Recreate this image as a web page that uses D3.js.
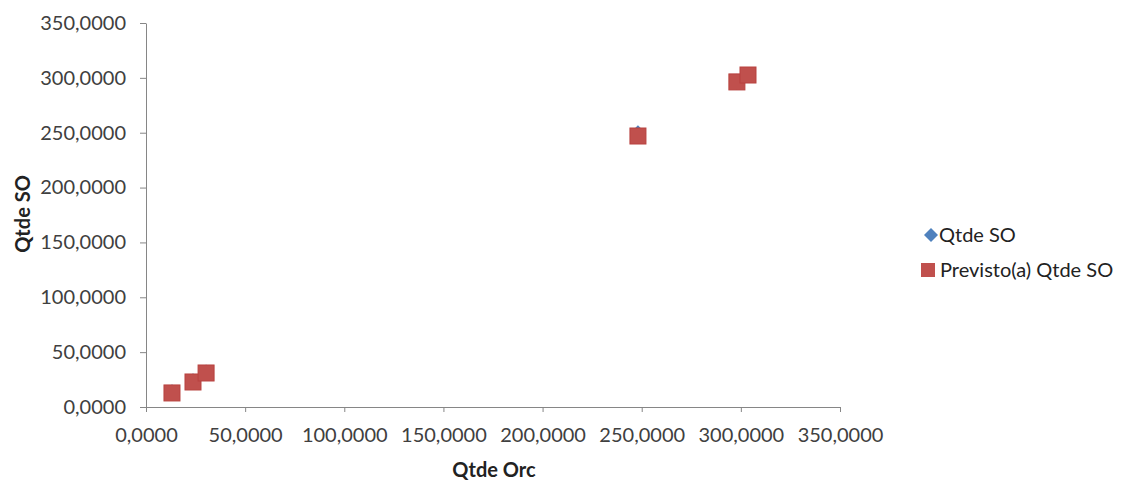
<!DOCTYPE html>
<html>
<head>
<meta charset="utf-8">
<script src="https://cdn.jsdelivr.net/npm/d3@7"></script>
<style>
  body { margin: 0; background: #fff; }
  svg { font-family: Lato, "Open Sans", sans-serif; }
</style>
</head>
<body>
<svg></svg>
<script>
// Dados
const qtdeOrc = [13.1, 23.7, 30.3, 248.1, 298.0, 303.6];
const qtdeSO = [13.5, 23.5, 31.5, 249.5, 296.5, 302.5];
const previstoSO = [12.8, 22.8, 31.0, 247.0, 296.3, 302.6];
const xTicks = [0, 50, 100, 150, 200, 250, 300, 350];
const yTicks = [0, 50, 100, 150, 200, 250, 300, 350];
const seriesNames = ["Qtde SO", "Previsto(a) Qtde SO"];

const width = 1123;
const height = 482;
const margin = { top: 23, right: 283, bottom: 75, left: 146 };

const fmt = d => d3.format(".4f")(d).replace(".", ",");

const xScale = d3.scaleLinear()
  .domain([0, 350])
  .range([margin.left, width - margin.right]);

const yScale = d3.scaleLinear()
  .domain([0, 350])
  .range([height - margin.bottom, margin.top]);

const svg = d3.select("svg")
  .attr("width", width)
  .attr("height", height);

// Eixo X
const gx = svg.append("g")
  .attr("transform", `translate(0,${height - margin.bottom})`)
  .call(d3.axisBottom(xScale).tickValues(xTicks).tickFormat(fmt).tickSize(5).tickSizeOuter(0));

// Eixo Y
const gy = svg.append("g")
  .attr("transform", `translate(${margin.left},0)`)
  .call(d3.axisLeft(yScale).tickValues(yTicks).tickFormat(fmt).tickSize(6).tickSizeOuter(0));

[gx, gy].forEach(g => {
  g.attr("font-family", "Lato, sans-serif");
  g.select(".domain").attr("stroke", "#868686");
  g.selectAll(".tick line").attr("stroke", "#868686");
  g.selectAll(".tick text")
    .attr("fill", "#404040")
    .style("font-size", "20px");
});
gx.selectAll(".tick text").attr("y", 0).attr("dy", "35px");
gy.selectAll(".tick text").attr("x", -20);

// Títulos dos eixos
svg.append("text")
  .attr("x", 494)
  .attr("y", 477)
  .attr("text-anchor", "middle")
  .style("font-size", "20px")
  .style("font-weight", "bold")
  .attr("fill", "#222")
  .text("Qtde Orc");

svg.append("text")
  .attr("transform", `translate(30,214) rotate(-90)`)
  .attr("text-anchor", "middle")
  .style("font-size", "20px")
  .style("font-weight", "bold")
  .attr("fill", "#222")
  .text("Qtde SO");

// Pontos reais (losango)
const dia = 8;
const diamondPath = `M0,${-dia}L${dia},0L0,${dia}L${-dia},0Z`;
svg.append("g").selectAll("path")
  .data(qtdeOrc)
  .join("path")
  .attr("d", diamondPath)
  .attr("transform", (d, i) => `translate(${xScale(d)},${yScale(qtdeSO[i])})`)
  .attr("fill", "#4F81BD");

// Pontos previstos (quadrado)
const sq = 16;
svg.append("g").selectAll("rect")
  .data(qtdeOrc)
  .join("rect")
  .attr("x", d => xScale(d) - sq / 2)
  .attr("y", (d, i) => yScale(previstoSO[i]) - sq / 2)
  .attr("width", sq)
  .attr("height", sq)
  .attr("fill", "#C0504D")
  .attr("stroke", "#B8423F")
  .attr("stroke-width", 1);

// Legenda
const legend = svg.append("g");
legend.append("path")
  .attr("d", "M0,-7L7,0L0,7L-7,0Z")
  .attr("transform", "translate(931,235)")
  .attr("fill", "#4F81BD");
legend.append("rect")
  .attr("x", 921).attr("y", 263)
  .attr("width", 14).attr("height", 14)
  .attr("fill", "#C0504D");
legend.selectAll("text")
  .data(seriesNames)
  .join("text")
  .attr("x", (d, i) => i === 0 ? 939 : 940)
  .attr("y", (d, i) => 242 + i * 35)
  .style("font-size", "20px")
  .attr("fill", "#222")
  .text(d => d);
</script>
</body>
</html>
